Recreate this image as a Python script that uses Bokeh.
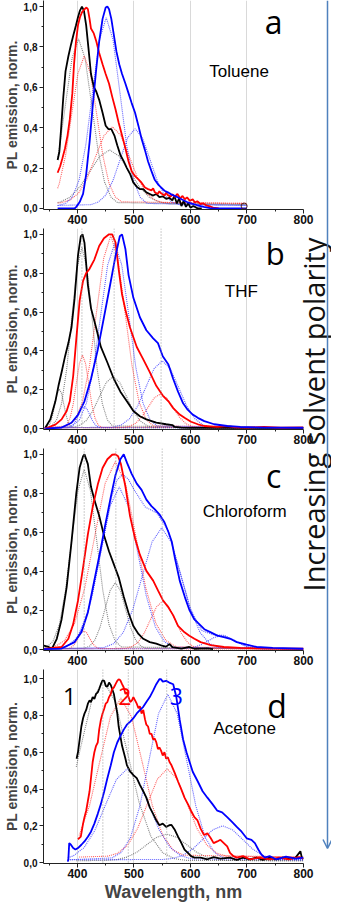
import math
from bokeh.plotting import figure
from bokeh.models import (Range1d, FixedTicker, CustomJSTickFormatter, Label, Span,
                          Arrow, OpenHead)
from bokeh.layouts import row, column
from bokeh.embed import file_html
from bokeh.resources import INLINE

# ---------------------------------------------------------------- ticks / texts
X_TICKS = [400, 500, 600, 700, 800]
X_MINOR = [350, 450, 550, 650, 750]
Y_TICKS = [0.0, 0.2, 0.4, 0.6, 0.8, 1.0]
Y_MINOR = [0.1, 0.3, 0.5, 0.7, 0.9]
PANEL_LETTERS = ["a", "b", "c", "d"]
SOLVENTS = ["Toluene", "THF", "Chloroform", "Acetone"]
SAMPLE_NUMBERS = ["1", "2", "3"]
SIDE_TEXT = "Increasing solvent polarity"
Y_LABEL = "PL emission, norm."
X_LABEL = "Wavelength, nm"

# ---------------------------------------------------------------- panel a (Toluene)
A_BLACK = [(365,0.24),(368,0.28),(371,0.39),(375,0.55),(379,0.68),(384,0.754),(388.5,0.81),(393,0.86),
           (397.5,0.907),(401,0.947),(404.5,0.98),(408,1.0),(411.5,0.98),(415.5,0.907),(419.5,0.795),
           (424,0.666),(429,0.602),(433.5,0.578),(438.5,0.538),(444.5,0.474),(450,0.41),(455,0.393),
           (460,0.393),(465.5,0.361),(470.5,0.313),(476,0.265),(482,0.233),(487.5,0.2),(493.5,0.169),
           (499,0.128),(505,0.108),(510.5,0.096),(516.5,0.096),(522,0.08),(528,0.072),(534,0.064),
           (539.5,0.072),(545,0.056),(551,0.06),(557,0.048),(562.5,0.053),(568,0.04),(571.5,0.062),
           (576,0.025),(580,0.05),(584,0.012),(588,0.038),(592,0.008),(596,0.025),(600,0.004),
           (605,0.012),(612,0.002),(620,0.0)]
A_RED = [(365,0.177),(369.5,0.209),(373.5,0.249),(378,0.297),(382.5,0.361),(386.5,0.441),(391,0.57),
         (394,0.714),(397.5,0.827),(401,0.907),(404.5,0.947),(408,0.971),(412.5,0.987),(416,0.995),
         (418.5,0.987),(421.5,0.939),(424,0.891),(429,0.867),(433.5,0.827),(438.5,0.77),(444.5,0.714),
         (450,0.666),(456,0.618),(461.5,0.554),(467.5,0.49),(473,0.425),(479,0.361),(485,0.297),
         (490.5,0.233),(496,0.185),(502,0.16),(508,0.144),(513.5,0.128),(519.5,0.104),(525,0.096),
         (531,0.09),(534,0.1),(537,0.08),(542,0.072),(545,0.085),(548,0.075),(554,0.064),(557,0.078),
         (560,0.066),(565,0.059),(568,0.07),(572,0.058),(577,0.072),(582,0.05),(586,0.062),(590,0.046),
         (594,0.055),(599,0.038),(604,0.045),(608,0.03),(612,0.036),(618,0.022),(622,0.026),
         (629,0.014),(635,0.01),(640,0.004),(650,0.0)]
A_BLUE = [(365,0.0),(395,0.0),(398,0.008),(404,0.032),(410,0.072),(415.5,0.169),(421.5,0.329),(427,0.506),
          (433,0.682),(438.5,0.827),(444.5,0.939),(450,0.995),(453,1.0),(456,0.987),(460,0.939),
          (464.5,0.859),(469,0.778),(474,0.714),(479,0.666),(485,0.618),(490.5,0.57),(496,0.522),
          (502,0.474),(508,0.409),(513.5,0.345),(519.5,0.289),(525,0.233),(531,0.185),(536.5,0.144),
          (542.5,0.12),(548,0.104),(554,0.088),(560,0.08),(566,0.07),(577,0.056),(594,0.032),
          (612,0.016),(623.5,0.008),(635,0.002),(650,0.0),(700,0.0)]
A_END_MARK = [(695,0.012)]
A_GRAY1 = [(365,0.245),(367.5,0.287),(379,0.518),(390.5,0.744),(402,0.84),(413.5,0.744),(425,0.518),
           (436.5,0.287),(448,0.131),(459.5,0.056),(471,0.029),(700,0.02)]
A_GRAY2 = [(365,0.029),(369.5,0.032),(387,0.056),(404.5,0.108),(422,0.184),(439.5,0.258),(457,0.29),
           (474.5,0.258),(492,0.184),(509.5,0.108),(527,0.056),(544.5,0.032),(562,0.023),(700,0.02)]
A_RED1 = [(365,0.1),(368,0.124),(379,0.262),(390,0.469),(401,0.669),(412,0.755),(423,0.669),(434,0.469),
          (445,0.262),(456,0.124),(467,0.057),(478,0.033),(700,0.025)]
A_RED2 = [(365,0.027),(372,0.029),(387,0.042),(402,0.076),(417,0.148),(432,0.256),(447,0.361),(462,0.405),
          (477,0.361),(492,0.256),(507,0.148),(522,0.076),(537,0.042),(552,0.029),(700,0.025)]
A_BLUE1 = [(365,0.015),(379,0.025),(391,0.056),(403,0.141),(415,0.317),(427,0.579),(439,0.836),(451,0.945),
           (463,0.836),(475,0.579),(487,0.317),(499,0.141),(511,0.056),(523,0.025),(700,0.015)]
A_BLUE2 = [(365,0.015),(424,0.019),(437,0.032),(450,0.066),(463,0.139),(476,0.246),(489,0.351),(502,0.395),
           (515,0.351),(528,0.246),(541,0.139),(554,0.066),(567,0.032),(580,0.019),(700,0.015)]
A_PEAKS = []

# ---------------------------------------------------------------- panel b (THF)
B_BLACK = [(343.5,0.005),(352,0.047),(361,0.14),(366.5,0.22),(372,0.29),(378,0.37),(384,0.44),(389.5,0.52),
           (395,0.67),(401,0.89),(406,0.99),(409,1.0),(412.5,0.957),(418.5,0.74),(424,0.62),(433,0.52),
           (441.5,0.42),(453,0.34),(464.5,0.255),(476,0.19),(487.5,0.14),(499,0.09),(510.5,0.063),
           (522,0.047),(539.5,0.03),(557,0.022),(568,0.018),(572,0.008),(584,0.005),(600,0.003),(800,0.003)]
B_RED = [(343.5,0.0),(361,0.02),(372,0.047),(381,0.09),(386.5,0.14),(392.5,0.27),(398,0.46),(404,0.66),
         (410,0.76),(415.5,0.8),(421,0.82),(430,0.87),(438.5,0.94),(447,0.98),(456,1.0),(461.5,1.0),
         (467.5,0.957),(473,0.82),(479,0.69),(485,0.61),(493,0.52),(505,0.42),(516.5,0.356),(528,0.29),
         (539.5,0.22),(551,0.17),(561,0.14),(569.5,0.105),(581,0.072),(589.5,0.055),(601,0.035),
         (613,0.022),(624.5,0.013),(647.5,0.008),(665,0.012),(680,0.006),(700,0.005),(730,0.008),
         (760,0.004),(800,0.006)]
B_BLUE = [(343.5,0.0),(372,0.005),(389.5,0.03),(401,0.07),(412.5,0.14),(424,0.255),(436,0.406),(447,0.573),
          (459,0.757),(467.5,0.89),(475,0.99),(479,1.0),(485,0.923),(490.5,0.79),(499,0.673),(510.5,0.573),
          (522,0.506),(534,0.464),(542.5,0.44),(551,0.372),(561,0.33),(569.5,0.255),(578,0.19),(587,0.13),
          (595,0.097),(604,0.072),(613,0.055),(624.5,0.038),(642,0.022),(665,0.013),(688,0.008),
          (734,0.005),(800,0.004)]
B_GRAY1 = [(340,0.003),(350,0.019),(352,0.03),(356,0.068),(360,0.124),(364,0.18),(368,0.203),(372,0.18),
           (376,0.124),(380,0.068),(384,0.03),(388,0.012),(392,0.005),(800,0.003)]
B_GRAY2 = [(340,0.003),(354,0.013),(363,0.044),(372,0.129),(381,0.305),(390,0.568),(399,0.824),(408,0.933),
           (417,0.824),(426,0.568),(435,0.305),(444,0.129),(453,0.044),(462,0.013),(800,0.003)]
B_GRAY3 = [(340,0.003),(391,0.006),(403,0.015),(415,0.039),(427,0.089),(439,0.164),(451,0.237),(463,0.268),
           (475,0.237),(487,0.164),(499,0.089),(511,0.039),(523,0.015),(535,0.006),(800,0.003)]
B_RED1 = [(340,0.003),(376,0.007),(381.5,0.02),(387,0.054),(392.5,0.125),(398,0.231),(403.5,0.334),(409,0.378),
          (414.5,0.334),(420,0.231),(425.5,0.125),(431,0.054),(436.5,0.02),(442,0.007),(800,0.003)]
B_RED2 = [(340,0.003),(384,0.014),(396.5,0.047),(409,0.137),(421.5,0.325),(434,0.604),(446.5,0.877),(459,0.993),
          (471.5,0.877),(484,0.604),(496.5,0.325),(509,0.137),(521.5,0.047),(534,0.014),(800,0.003)]
B_RED3 = [(340,0.003),(481,0.005),(492,0.011),(503,0.027),(514,0.06),(525,0.109),(536,0.158),(547,0.178),
          (558,0.158),(569,0.109),(580,0.06),(591,0.027),(602,0.011),(613,0.005),(800,0.003)]
B_BLUE1 = [(340,0.003),(382,0.004),(387,0.008),(392,0.018),(397,0.039),(402,0.07),(407,0.1),(412,0.113),
           (417,0.1),(422,0.07),(427,0.039),(432,0.018),(437,0.008),(442,0.004),(800,0.003)]
B_BLUE2 = [(340,0.003),(391,0.013),(403.5,0.045),(416,0.131),(428.5,0.312),(441,0.58),(453.5,0.842),(466,0.953),
           (478.5,0.842),(491,0.58),(503.5,0.312),(516,0.131),(528.5,0.045),(541,0.013),(800,0.003)]
B_BLUE3 = [(340,0.003),(463,0.007),(477.5,0.018),(492,0.05),(506.5,0.115),(521,0.212),(535.5,0.308),(550,0.348),
           (564.5,0.308),(579,0.212),(593.5,0.115),(608,0.05),(622.5,0.018),(637,0.007),(800,0.003)]
B_PEAKS = [408, 465, 548]

# ---------------------------------------------------------------- panel c (Chloroform)
C_BLACK = [(340.5,0.02),(349,0.013),(355,0.005),(363.5,0.055),(372,0.154),(381,0.32),(389.5,0.55),(398,0.8),
           (404,0.933),(410,0.99),(412.5,1.0),(418.5,0.95),(424,0.834),(430,0.768),(438.5,0.685),(447,0.585),
           (456,0.502),(464.5,0.436),(473,0.37),(482,0.27),(490.5,0.187),(499,0.12),(508,0.08),(516.5,0.055),
           (528,0.038),(539.5,0.03),(551,0.018),(557,0.015),(563,0.028),(568,0.012),(584,0.005),(598,0.013),
           (607,0.004),(630,0.006),(640,0.002)]
C_RED = [(340,0.002),(372,0.013),(384,0.055),(392.5,0.13),(401,0.25),(410,0.42),(418.5,0.59),(427,0.73),
         (436,0.845),(444.5,0.93),(453,0.975),(461.5,0.998),(467,1.0),(472,0.99),(477,0.95),(485,0.834),
         (493,0.685),(502,0.569),(510.5,0.486),(522,0.403),(534,0.353),(542.5,0.303),(551,0.254),(560,0.22),
         (569.5,0.175),(578,0.121),(589.5,0.088),(598,0.071),(607,0.055),(618,0.038),(636,0.022),
         (659,0.013),(688,0.008),(734,0.005),(800,0.004)]
C_BLUE = [(340,0.002),(372,0.005),(395,0.038),(407,0.088),(418.5,0.19),(430,0.355),(441.5,0.52),(450,0.65),
          (459,0.78),(467,0.89),(476,0.975),(482,1.0),(488,0.955),(496,0.9),(505,0.85),(513.5,0.818),
          (522,0.768),(531,0.735),(537,0.718),(545,0.693),(554,0.652),(561,0.602),(567,0.552),(572.5,0.469),
          (581,0.353),(590,0.27),(598,0.204),(607,0.154),(616,0.129),(624.5,0.104),(636,0.088),(647.5,0.071),
          (659,0.063),(670.5,0.055),(682,0.038),(699.5,0.025),(717,0.013),(745.5,0.008),(800,0.004)]
C_GRAY1 = [(340,0.008),(346,0.013),(357,0.043),(368,0.127),(379,0.302),(390,0.561),(401,0.815),(412,0.923),
           (423,0.815),(434,0.561),(445,0.302),(456,0.127),(467,0.043),(478,0.013),(800,0.003)]
C_GRAY2 = [(340,0.003),(413,0.007),(422,0.018),(431,0.049),(440,0.114),(449,0.209),(458,0.303),(467,0.343),
           (476,0.303),(485,0.209),(494,0.114),(503,0.049),(512,0.018),(521,0.007),(800,0.003)]
C_RED1 = [(340,0.003),(381.5,0.004),(386.5,0.007),(391.5,0.016),(396.5,0.033),(401.5,0.059),(406.5,0.085),
          (411.5,0.096),(416.5,0.085),(421.5,0.059),(426.5,0.033),(431.5,0.016),(436.5,0.007),(441.5,0.004),
          (800,0.003)]
C_RED2 = [(340,0.005),(359,0.014),(377,0.045),(395,0.133),(413,0.315),(431,0.586),(449,0.851),(467,0.963),
          (485,0.851),(503,0.586),(521,0.315),(539,0.133),(557,0.045),(575,0.014),(800,0.003)]
C_RED3 = [(340,0.003),(485,0.006),(496,0.014),(507,0.036),(518,0.083),(529,0.152),(540,0.219),(551,0.248),
          (562,0.219),(573,0.152),(584,0.083),(595,0.036),(606,0.014),(617,0.006),(800,0.003)]
C_BLUE1 = [(340,0.003),(378,0.012),(394,0.04),(410,0.115),(426,0.273),(442,0.507),(458,0.736),(474,0.833),
           (490,0.736),(506,0.507),(522,0.273),(538,0.115),(554,0.04),(570,0.012),(800,0.003)]
C_BLUE2 = [(340,0.003),(447,0.01),(464,0.03),(481,0.087),(498,0.205),(515,0.379),(532,0.551),(549,0.623),
           (566,0.551),(583,0.379),(600,0.205),(617,0.087),(634,0.03),(651,0.01),(800,0.003)]
C_BLUE3 = [(340,0.003),(583,0.004),(595,0.006),(607,0.012),(619,0.025),(631,0.044),(643,0.063),(655,0.071),
           (667,0.063),(679,0.044),(691,0.025),(703,0.012),(715,0.006),(727,0.004),(800,0.003)]
C_BLUE_FIT = [(340,0.003),(380,0.014),(400,0.06),(420,0.203),(440,0.479),(460,0.777),(470,0.868),(480,0.898),
              (490,0.873),(500,0.82),(520,0.73),(540,0.70),(560,0.614),(580,0.413),(600,0.209),(620,0.097),
              (640,0.076),(660,0.0725),(680,0.043),(700,0.015),(720,0.005),(800,0.003)]
C_PEAKS = [412, 468, 550]

# ---------------------------------------------------------------- panel d (Acetone)
D_BLACK = [(398.5,0.565),(401,0.6),(404,0.67),(407,0.74),(410,0.785),(412.5,0.81),(415.5,0.83),(418.5,0.864),
           (421.5,0.882),(424,0.873),(427,0.9),(430,0.89),(433,0.917),(436,0.926),(438.5,0.944),(441.5,0.97),
           (444.5,0.991),(447.5,0.988),(450,0.961),(453,0.956),(456,0.979),(459,0.966),(461.5,0.944),
           (464.5,0.917),(467.5,0.864),(470.5,0.811),(473,0.74),(476,0.688),(479,0.635),(482,0.6),(485,0.565),
           (487.5,0.53),(493.5,0.494),(499,0.476),(505,0.459),(510.5,0.423),(516.5,0.388),(522,0.353),
           (528,0.3),(534,0.265),(539.5,0.23),(545,0.203),(551,0.212),(557,0.194),(562.5,0.203),(566.5,0.205),
           (572.5,0.177),(578,0.141),(584,0.106),(589.5,0.071),(595.5,0.053),(601,0.035),(607,0.027),
           (618,0.027),(630,0.018),(641,0.03),(653,0.021),(670,0.027),(682,0.014),(693,0.027),(705,0.018),
           (717,0.027),(728,0.014),(740,0.027),(751,0.018),(763,0.027),(774,0.021),(786,0.027),(794.5,0.062),
           (797,0.027),(800,0.02)]
D_RED = [(401,0.127),(406,0.141),(410,0.212),(412.5,0.247),(415.5,0.282),(418.5,0.335),(421.5,0.388),
         (424,0.459),(427,0.547),(430,0.6),(433,0.635),(436,0.653),(438.5,0.723),(441.5,0.776),(444.5,0.811),
         (447.5,0.838),(450,0.864),(453,0.873),(456,0.9),(459,0.917),(461.5,0.944),(464.5,0.952),(467.5,0.97),
         (470.5,0.988),(473,0.997),(476,0.991),(479,0.97),(482,0.952),(485,0.917),(487.5,0.926),(490.5,0.9),
         (493.5,0.873),(496.5,0.882),(499,0.9),(502,0.882),(505,0.864),(508,0.84),(510.5,0.85),(513.5,0.81),
         (516.5,0.83),(519.5,0.78),(522,0.75),(525,0.74),(528,0.70),(531,0.70),(534,0.67),(536.5,0.675),
         (539.5,0.655),(542.5,0.617),(545,0.626),(548,0.609),(551,0.582),(554,0.6),(557,0.565),(560,0.573),
         (563,0.547),(566.5,0.529),(572.5,0.485),(578,0.441),(584,0.397),(589.5,0.353),(595.5,0.318),
         (601,0.282),(607,0.247),(612.5,0.229),(618,0.185),(624,0.15),(630,0.159),(636,0.132),(641,0.106),
         (647.5,0.115),(653,0.124),(659,0.106),(665,0.088),(670,0.053),(676,0.035),(682,0.027),(693,0.035),
         (705,0.018),(722,0.027),(740,0.018),(757,0.027),(774,0.018),(792,0.03),(800,0.021)]
D_BLUE = [(383,0.005),(384,0.018),(385.5,0.106),(388.5,0.097),(392.5,0.079),(396.5,0.071),(401,0.079),
          (407,0.097),(412.5,0.115),(418.5,0.141),(424,0.168),(430,0.212),(436,0.265),(441.5,0.318),
          (447.5,0.388),(453,0.459),(459,0.529),(464.5,0.6),(470.5,0.653),(476,0.688),(482,0.723),
          (487.5,0.75),(493.5,0.767),(499,0.785),(505,0.811),(510.5,0.829),(516.5,0.847),(522,0.873),
          (528,0.9),(534,0.935),(539.5,0.97),(545,0.997),(548,0.997),(551,0.984),(557,0.988),(562.5,0.979),
          (569.5,0.97),(575,0.9),(581,0.776),(587,0.67),(593,0.6),(598.5,0.547),(604,0.494),(613,0.441),
          (621.5,0.388),(630,0.353),(639,0.318),(647.5,0.282),(656,0.273),(665,0.247),(673.5,0.221),
          (682,0.194),(690.5,0.168),(699.5,0.132),(708,0.124),(714,0.106),(720,0.071),(725.5,0.044),
          (731.5,0.027),(740,0.035),(751.5,0.018),(769,0.032),(786,0.021),(800,0.027)]
D_GRAY1 = [(398,0.52),(404,0.605),(425,0.875),(446,0.99),(467,0.875),(488,0.605),(509,0.328),(530,0.142),
           (551,0.053),(572,0.021),(593,0.012),(800,0.01)]
D_GRAY2 = [(398,0.01),(453,0.012),(470.5,0.016),(488,0.03),(505.5,0.057),(523,0.098),(540.5,0.138),(558,0.155),
           (575.5,0.138),(593,0.098),(610.5,0.057),(628,0.03),(645.5,0.016),(663,0.012),(800,0.01)]
D_RED1 = [(403,0.147),(421.5,0.311),(440,0.555),(458.5,0.794),(477,0.895),(495.5,0.794),(514,0.555),
          (532.5,0.311),(551,0.147),(569.5,0.068),(588,0.04),(800,0.03)]
D_RED2 = [(403,0.03),(454,0.035),(471.5,0.051),(489,0.095),(506.5,0.186),(524,0.321),(541.5,0.454),(559,0.51),
          (576.5,0.454),(594,0.321),(611.5,0.186),(629,0.095),(646.5,0.051),(664,0.035),(800,0.03)]
D_BLUE1 = [(383,0.026),(393,0.037),(412,0.082),(431,0.176),(450,0.316),(469,0.452),(488,0.51),(507,0.452),
           (526,0.316),(545,0.176),(564,0.082),(583,0.037),(602,0.02),(800,0.015)]
D_BLUE2 = [(383,0.015),(461,0.025),(477.5,0.055),(494,0.137),(510.5,0.308),(527,0.561),(543.5,0.81),(560,0.915),
           (576.5,0.81),(593,0.561),(609.5,0.308),(626,0.137),(642.5,0.055),(659,0.025),(800,0.015)]
D_BLUE3 = [(383,0.015),(552,0.017),(569.5,0.023),(587,0.04),(604.5,0.075),(622,0.127),(639.5,0.178),(657,0.2),
           (674.5,0.178),(692,0.127),(709.5,0.075),(727,0.04),(744.5,0.023),(762,0.017),(800,0.015)]
D_PEAKS = [445, 490, 558]

# ---------------------------------------------------------------- styling
BLACK, RED, BLUE = "#000000", "#ff0000", "#0000ff"
DOT_GRAY, DOT_RED, DOT_BLUE = "#5a5a5a", "#ff2a2a", "#2a2aff"
ARROW_COLOR = "#4f81bd"
TICK_FONT = "Liberation Sans"


def xs(pts):
    return [p[0] for p in pts]


def ys(pts):
    return [p[1] for p in pts]


def make_panel(height, border_bottom, y_end, with_xlabel):
    p = figure(width=331, height=height, x_range=Range1d(340, 800), y_range=Range1d(-0.005, y_end),
               output_backend="svg", toolbar_location=None,
               min_border_left=38, min_border_right=28, min_border_top=0,
               min_border_bottom=border_bottom)
    p.outline_line_color = None
    p.background_fill_color = "white"
    p.border_fill_color = "white"
    p.xaxis.ticker = FixedTicker(ticks=X_TICKS, minor_ticks=X_MINOR)
    p.yaxis.ticker = FixedTicker(ticks=Y_TICKS, minor_ticks=Y_MINOR)
    p.yaxis.formatter = CustomJSTickFormatter(code="return tick.toFixed(1).replace('.', ',');")
    p.xgrid.grid_line_color = "#d9d9d9"
    p.xgrid.grid_line_width = 1
    p.ygrid.grid_line_color = None
    for ax in (p.xaxis[0], p.yaxis[0]):
        ax.axis_line_color = "#222222"
        ax.axis_line_width = 1
        ax.major_tick_line_color = "#222222"
        ax.minor_tick_line_color = "#222222"
        ax.major_tick_in = 0
        ax.major_tick_out = 4
        ax.minor_tick_in = 0
        ax.minor_tick_out = 2
        ax.major_label_text_font = TICK_FONT
        ax.major_label_text_font_style = "bold"
        ax.major_label_text_color = "#111111"
    p.xaxis.major_label_text_font_size = "12px"
    p.xaxis.major_label_standoff = 1
    p.yaxis.major_label_text_font_size = "10px"
    p.yaxis.major_label_standoff = 2
    p.yaxis.axis_label = Y_LABEL
    p.yaxis.axis_label_text_font = TICK_FONT
    p.yaxis.axis_label_text_font_style = "bold"
    p.yaxis.axis_label_text_font_size = "14px"
    p.yaxis.axis_label_standoff = 1
    if with_xlabel:
        p.xaxis.axis_label = X_LABEL
        p.xaxis.axis_label_text_font = TICK_FONT
        p.xaxis.axis_label_text_font_style = "bold"
        p.xaxis.axis_label_text_font_size = "18px"
        p.xaxis.axis_label_standoff = 1
    return p


def add_peaks(p, peaks):
    for x in peaks:
        p.add_layout(Span(location=x, dimension="height", line_color="#999999",
                          line_dash="1 2", line_width=1))


def add_fits(p, curves, color):
    for c in curves:
        p.line(xs(c), ys(c), line_color=color, line_width=1.1, line_dash="1 1", line_alpha=0.75)


def add_spectra(p, black, red, blue):
    for c, col in ((black, BLACK), (red, RED), (blue, BLUE)):
        p.line(xs(c), ys(c), line_color=col, line_width=1.8)


def add_texts(p, letter, lx, ly, lsize, solvent, sx, sy):
    p.add_layout(Label(x=lx, y=ly, text=letter, text_font="Open Sans", text_font_size=lsize,
                       text_align="center", text_baseline="alphabetic", text_color="black"))
    p.add_layout(Label(x=sx, y=sy, text=solvent, text_font="Liberation Sans", text_font_size="17px",
                       text_align="center", text_baseline="alphabetic", text_color="black"))


# ---- panel a
pa = make_panel(228, 19, 1.03, False)
add_peaks(pa, A_PEAKS)
add_fits(pa, [A_GRAY1, A_GRAY2], DOT_GRAY)
add_fits(pa, [A_RED1, A_RED2], DOT_RED)
add_fits(pa, [A_BLUE1, A_BLUE2], DOT_BLUE)
add_spectra(pa, A_BLACK, A_RED, A_BLUE)
pa.scatter(xs(A_END_MARK), ys(A_END_MARK), marker="circle", size=6, fill_color=None,
           line_color="#552222", line_width=1)
add_texts(pa, PANEL_LETTERS[0], 747, 0.926, "32px", SOLVENTS[0], 686, 0.68)

# ---- panel b
pb = make_panel(220, 19, 1.03, False)
add_peaks(pb, B_PEAKS)
add_fits(pb, [B_GRAY1, B_GRAY2, B_GRAY3], DOT_GRAY)
add_fits(pb, [B_RED1, B_RED2, B_RED3], DOT_RED)
add_fits(pb, [B_BLUE1, B_BLUE2, B_BLUE3], DOT_BLUE)
add_spectra(pb, B_BLACK, B_RED, B_BLUE)
add_texts(pb, PANEL_LETTERS[1], 750, 0.905, "31px", SOLVENTS[1], 690, 0.708)

# ---- panel c
pc = make_panel(221, 19, 1.03, False)
add_peaks(pc, C_PEAKS)
add_fits(pc, [C_GRAY1, C_GRAY2], DOT_GRAY)
add_fits(pc, [C_RED1, C_RED2, C_RED3], DOT_RED)
add_fits(pc, [C_BLUE1, C_BLUE2, C_BLUE3, C_BLUE_FIT], DOT_BLUE)
add_spectra(pc, C_BLACK, C_RED, C_BLUE)
add_texts(pc, PANEL_LETTERS[2], 747, 0.89, "32px", SOLVENTS[2], 696, 0.706)

# ---- panel d
pd_ = make_panel(235, 40, 1.05, True)
add_peaks(pd_, D_PEAKS)
add_fits(pd_, [D_GRAY1, D_GRAY2], DOT_GRAY)
add_fits(pd_, [D_RED1, D_RED2], DOT_RED)
add_fits(pd_, [D_BLUE1, D_BLUE2, D_BLUE3], DOT_BLUE)
add_spectra(pd_, D_BLACK, D_RED, D_BLUE)
add_texts(pd_, PANEL_LETTERS[3], 753, 0.855, "32px", SOLVENTS[3], 696, 0.73)
for t, x, col in zip(SAMPLE_NUMBERS, [386, 484, 575], [BLACK, RED, BLUE]):
    pd_.add_layout(Label(x=x, y=0.905, text=t, text_font="Open Sans", text_font_size="23px",
                         text_align="center", text_baseline="alphabetic", text_color=col))

# ---- overlay strip on the right: rotated caption + arrow (page pixel coordinates)
ov = figure(width=50, height=904, x_range=Range1d(289, 339), y_range=Range1d(912, 8),
            x_axis_type=None, y_axis_type=None, output_backend="svg", toolbar_location=None,
            min_border=0, min_border_left=0, min_border_right=0, min_border_top=0, min_border_bottom=0)
ov.outline_line_color = None
ov.background_fill_color = None
ov.border_fill_color = None
ov.grid.visible = False
ov.margin = (0, 0, 0, -50)
ov.add_layout(Label(x=321, y=422, text=SIDE_TEXT, angle=math.pi / 2, text_font="Open Sans",
                    text_font_size="29px", text_align="center", text_baseline="alphabetic",
                    text_color="#111111"))
ov.add_layout(Arrow(end=OpenHead(size=9, line_color=ARROW_COLOR, line_width=1.5),
                    x_start=335, y_start=8, x_end=335, y_end=856,
                    line_color=ARROW_COLOR, line_width=1.5))

layout = row(column(pa, pb, pc, pd_), ov)
open("out.html", "w").write(file_html(layout, INLINE))
